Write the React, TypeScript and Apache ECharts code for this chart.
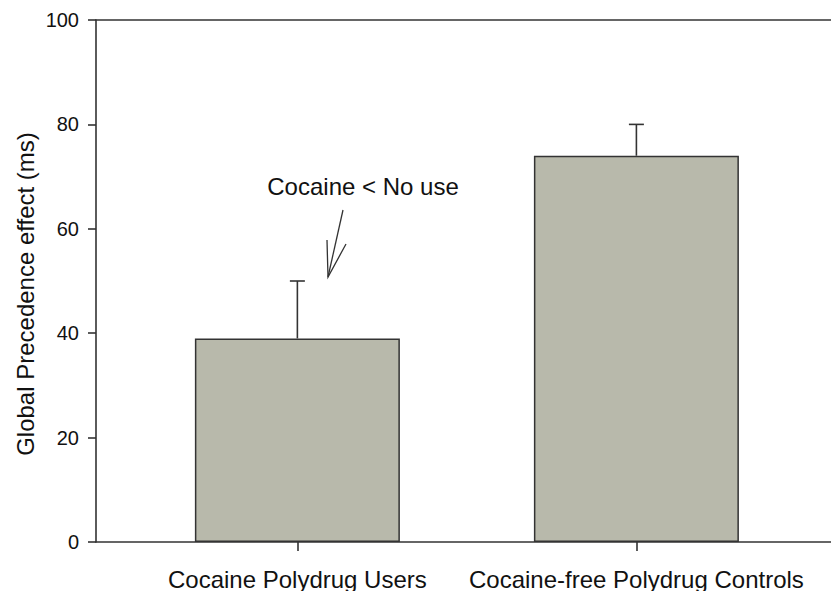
import React, { useEffect, useRef } from "react";
import * as echarts from "echarts";

const categories = ["Cocaine Polydrug Users", "Cocaine-free Polydrug Controls"];
const positions = [1, 2];
const means = [39, 74];
const errUpper = [50, 80];
const yTicks = [0, 20, 40, 60, 80, 100];
const annotation = "Cocaine < No use";
const yTitle = "Global Precedence effect (ms)";

const FONT = "Liberation Sans, Arial, Helvetica, sans-serif";
const AXIS = "#333333";
const X_MIN = 0.406;
const X_MAX = 2.574;

export default function App() {
  const ref = useRef<HTMLDivElement>(null);
  useEffect(() => {
    document.body.style.margin = "0";
    const chart = echarts.init(ref.current!, null, { renderer: "svg" });
    const barData = positions.map((p, i) => [p, means[i]]);
    const errData = positions.map((p, i) => [p, means[i], errUpper[i]]);
    chart.setOption({
      animation: false,
      backgroundColor: "#ffffff",
      grid: { left: 96, right: 0, top: 20, bottom: 49, containLabel: false },
      xAxis: [
        {
          type: "value",
          min: X_MIN,
          max: X_MAX,
          splitLine: { show: false },
          axisLine: { show: true, onZero: false, lineStyle: { color: AXIS, width: 1.6 } },
          axisTick: {
            show: true,
            customValues: positions,
            length: 9,
            lineStyle: { color: AXIS, width: 1.6 },
          },
          axisLabel: {
            customValues: positions,
            formatter: (v: number) => categories[positions.indexOf(Math.round(v))] ?? "",
            fontSize: 24,
            fontFamily: FONT,
            color: "#111111",
            margin: 25,
          },
        },
        {
          type: "value",
          position: "top",
          min: X_MIN,
          max: X_MAX,
          splitLine: { show: false },
          axisLine: { show: true, onZero: false, lineStyle: { color: AXIS, width: 1.6 } },
          axisTick: { show: false },
          axisLabel: { show: false },
        },
      ],
      yAxis: {
        type: "value",
        min: yTicks[0],
        max: yTicks[yTicks.length - 1],
        interval: 20,
        splitLine: { show: false },
        axisLine: { show: true, lineStyle: { color: AXIS, width: 1.6 } },
        axisTick: { show: true, length: 8, lineStyle: { color: AXIS, width: 1.6 } },
        axisLabel: { fontSize: 20, fontFamily: FONT, color: "#111111", margin: 17 },
      },
      series: [
        {
          type: "bar",
          data: barData,
          barWidth: 205,
          itemStyle: { color: "#b8b9ab", borderColor: "#333333", borderWidth: 1.5 },
          z: 2,
        },
        {
          type: "custom",
          data: errData,
          z: 3,
          renderItem: (params: any, api: any) => {
            const x = api.value(0);
            const lo = api.coord([x, api.value(1)]);
            const hi = api.coord([x, api.value(2)]);
            const half = 7.5;
            const style = { stroke: "#333333", lineWidth: 1.6 };
            return {
              type: "group",
              children: [
                { type: "line", shape: { x1: lo[0], y1: lo[1], x2: hi[0], y2: hi[1] }, style },
                { type: "line", shape: { x1: hi[0] - half, y1: hi[1], x2: hi[0] + half, y2: hi[1] }, style },
              ],
            };
          },
        },
      ],
      graphic: [
        {
          type: "text",
          x: 25,
          y: 294,
          rotation: Math.PI / 2,
          style: {
            text: yTitle,
            fontSize: 24,
            fontFamily: FONT,
            fill: "#111111",
            align: "center",
            verticalAlign: "middle",
          },
        },
        {
          type: "text",
          x: 363,
          y: 186,
          style: {
            text: annotation,
            fontSize: 24,
            fontFamily: FONT,
            fill: "#111111",
            align: "center",
            verticalAlign: "middle",
          },
        },
        {
          type: "polyline",
          shape: { points: [[343, 210], [328, 277]] },
          style: { stroke: "#333333", lineWidth: 1.3, fill: null },
        },
        {
          type: "polyline",
          shape: { points: [[327, 240], [328, 277], [346, 244]] },
          style: { stroke: "#333333", lineWidth: 1.3, fill: null },
        },
      ],
    });
    return () => chart.dispose();
  }, []);
  return <div ref={ref} style={{ width: 831, height: 591 }} />;
}
